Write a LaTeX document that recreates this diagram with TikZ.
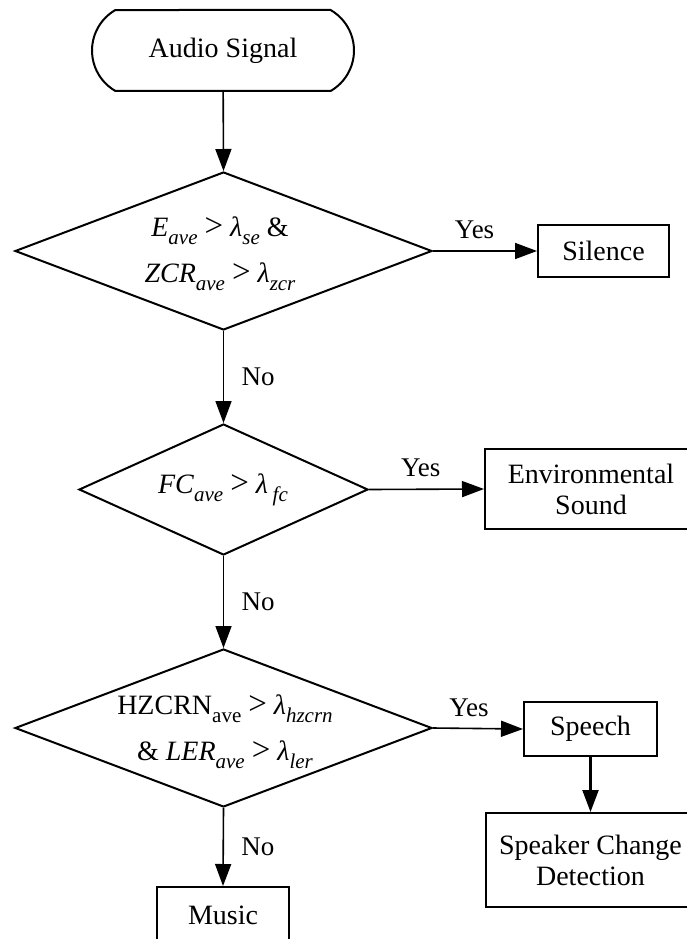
\documentclass[tikz,border=0pt]{standalone}
\usepackage{fontspec}
\setmainfont{Liberation Serif}
\usetikzlibrary{shapes.geometric,shapes.misc,arrows.meta}

% lowered subscript used in the decision formulas
\newcommand{\lowsub}[1]{\raisebox{-8pt}{\fontsize{21}{21}\selectfont #1}}
% larger comparison sign
\newcommand{\gtsign}{{\fontsize{33}{33}\selectfont >}}

\tikzset{
  base/.style={font=\fontsize{28}{33}\selectfont, text=black},
  term/.style={base, draw, line width=2pt, rounded rectangle,
    rounded rectangle arc length=120, minimum width=262pt,
    minimum height=81pt, inner sep=0pt},
  decision/.style={draw, line width=2pt, diamond, inner sep=0pt},
  formula/.style={base, font=\fontsize{28}{46}\selectfont, align=center,
    inner sep=0pt},
  outbox/.style={base, draw, line width=2pt, rectangle, align=center,
    inner sep=0pt},
  flow/.style={line width=1.6pt, -{Triangle[length=22pt,width=16pt]}},
  lbl/.style={font=\fontsize{27}{32}\selectfont, text=black}
}

\begin{document}
\begin{tikzpicture}[x=1pt, y=-1pt]
  \fill[white] (0,0) rectangle (687,939);
  \clip (0,0) rectangle (687,939);

  % start terminal
  \node[term] (start) at (223,50.5) {Audio Signal};

  % decision diamonds
  \node[decision, minimum width=417pt, minimum height=158pt] (d1) at (223.5,251) {};
  \node[formula] (d1t) at (220,254)
    {\textit{E}\lowsub{\textit{ave}} \gtsign{} \textit{λ}\lowsub{\textit{se}} \&\\
     \textit{ZCR}\lowsub{\textit{ave}} \gtsign{} \textit{λ}\lowsub{\textit{zcr}}};

  \node[decision, minimum width=289pt, minimum height=131pt] (d2) at (223.5,489.5) {};
  \node[formula] (d2t) at (223,490)
    {\textit{FC}\lowsub{\textit{ave}} \gtsign{} \textit{λ}\,\lowsub{\textit{fc}}};

  \node[decision, minimum width=417pt, minimum height=158pt] (d3) at (223.5,728) {};
  \node[formula] (d3t) at (225,732)
    {HZCRN\lowsub{ave} \gtsign{} \textit{λ}\lowsub{\textit{hzcrn}}\\
     \& \textit{LER}\lowsub{\textit{ave}} \gtsign{} \textit{λ}\lowsub{\textit{ler}}};

  % outcome boxes
  \node[outbox, minimum width=131pt, minimum height=52pt] (silence) at (603.5,251) {Silence};
  \node[outbox, minimum width=212pt, minimum height=80pt] (env) at (591,489) {Environmental\\[-2pt]Sound};
  \node[outbox, minimum width=133pt, minimum height=54pt] (speech) at (590.5,729) {Speech};
  \node[outbox, minimum width=210pt, minimum height=94pt] (spk) at (590.5,860) {Speaker Change\\[-2pt]Detection};
  \node[outbox, minimum width=132pt, minimum height=56pt] (music) at (223,915) {Music};

  % connectors
  \draw[flow] (start) -- (d1.north);
  \draw[flow] (d1.east) -- node[lbl, pos=0.4, above=8pt] (y1) {Yes} (silence.west);
  \draw[flow] (d1.south) -- node[lbl, midway, right=14pt] (n1) {No} (d2.north);
  \draw[flow] (d2.east) -- node[lbl, pos=0.45, above=8pt] (y2) {Yes} (env.west);
  \draw[flow] (d2.south) -- node[lbl, midway, right=14pt] (n2) {No} (d3.north);
  \draw[flow] (d3.east) -- node[lbl, pos=0.4, above=8pt] (y3) {Yes} (speech.west);
  \draw[flow, line width=2.2pt] (speech.south) -- (spk.north);
  \draw[flow] (d3.south) -- node[lbl, midway, right=14pt] (n3) {No} (music.north);
\end{tikzpicture}
\end{document}
